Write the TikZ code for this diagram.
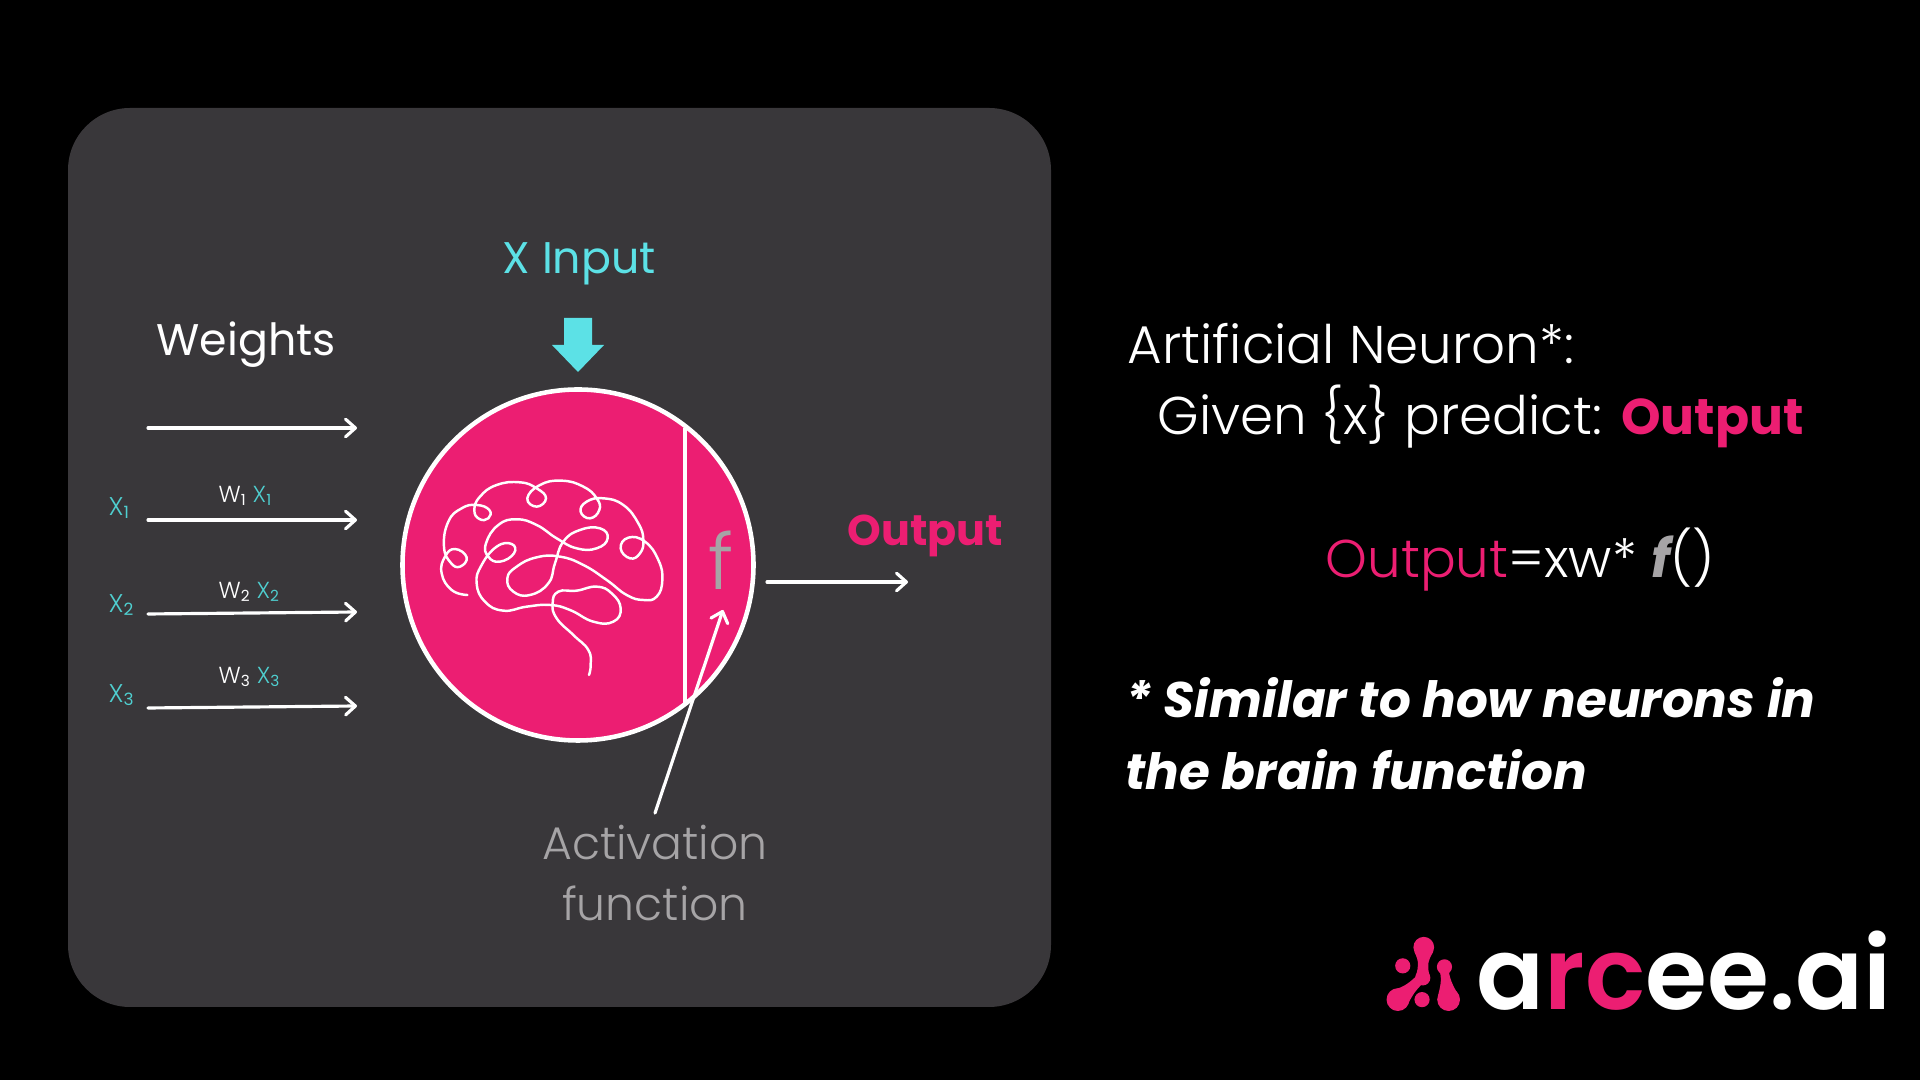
\documentclass[tikz,border=0pt]{standalone}
\usepackage{fontspec}
\setmainfont{Poppins}
\newfontfamily\lightf{Poppins Light}
\newfontfamily\semif{Poppins SemiBold}
\usetikzlibrary{arrows.meta}
\definecolor{pinkc}{HTML}{EC1E72}
\definecolor{panelc}{HTML}{39373A}
\definecolor{cyanc}{HTML}{5CE1E6}
\definecolor{tealc}{HTML}{4FCFD0}
\definecolor{grayc}{HTML}{A6A4A6}
\newcommand{\Sz}[1]{\fontsize{#1pt}{#1pt}\selectfont}
\newcommand{\Low}[1]{\raisebox{-0.2ex}{\scalebox{0.66}{\normalfont #1}}}
\tikzset{
  wire/.style={white,line width=0.9pt,line cap=round,-{Straight Barb[length=2.8pt,width=5pt,round]}},
  txt/.style={inner sep=0pt,anchor=base west,text=white},
  small/.style={txt,font=\lightf\Sz{7.3}},
  line/.style={txt,font=\lightf\Sz{15.1}},
  note/.style={txt,font=\bfseries\itshape\Sz{14.2}},
}
\begin{document}
\begin{tikzpicture}[x=0.01cm,y=-0.01cm]
\useasboundingbox (0,0) rectangle (1920,1080);
\fill[black] (0,0) rectangle (1920,1080);
\fill[panelc,rounded corners=0.62cm] (68,108) rectangle (1051,1007);
% left side
\node[txt,font=\Sz{12.6}] (weights) at (156,356) {Weights};
\node[txt,text=cyanc,font=\Sz{12.6}] (xinput) at (502,274) {X Input};
\fill[cyanc] (564,318) -- (592,318) -- (592,345) -- (604,345) -- (578,372) -- (552,345) -- (564,345) -- cycle;
\coordinate (w0a) at (148,428);
\coordinate (w0b) at (357,428);
\draw[wire] (w0a) -- (w0b);
\foreach \n/\ya/\yb/\yx/\yw in {1/520/520/516/503,2/614/612/613/599,3/708/706/703/684}
{
  \coordinate (w\n a) at (148,\ya);
  \coordinate (w\n b) at (357,\yb);
  \draw[wire] (w\n a) -- (w\n b);
  \node[small,text=tealc] (x\n) at (108,\yx) {X\Low{\n}};
  \node[small,font=\lightf\Sz{6.6}] (wx\n) at (218,\yw) {W\Low{\n}\hspace{0.3em}\textcolor{tealc}{X\Low{\n}}};
}
% neuron
\fill[pinkc] (578,565) circle (175.5*0.01cm);
\draw[white,line width=1.3pt] (578,565) circle (175.5*0.01cm);
\draw[white,line width=1.2pt] (685,428) -- (685,703);
\begin{scope}[shift={(380,370)},x=0.01cm/3,y=-0.01cm/3]
\draw[white,line width=0.7pt,line cap=round] plot[smooth,tension=0.8] coordinates {
(262,675) (215,660) (185,610) (195,560) (225,537) (260,562) (240,590) (212,578) (192,530) (205,455) (245,415) (290,405)
(328,420) (325,445) (298,447) (283,420) (300,380) (350,345) (420,337) (470,355) (498,385) (470,410) (442,385) (480,345)
(545,332) (610,350) (650,385) (658,420) (630,445) (602,425) (620,395) (670,385) (730,405) (775,460) (790,510) (780,550)
(750,565) (722,535) (745,503) (795,515) (835,570) (847,630) (830,680) (790,690) (740,675) (680,630) (610,585) (540,560)
(470,562) (410,590) (382,625) (400,665) (450,675) (505,640) (525,580) (550,515) (600,480) (660,475) (683,505) (650,535)
(590,535) (530,505) (470,465) (410,448) (355,465) (318,520) (325,560) (360,575) (402,550) (395,522) (350,530) (305,585)
(290,640) (315,695) (370,722) (440,710) (510,705) (570,720) (640,755) (700,755) (722,715) (695,670) (650,650) (590,662)
(535,665) (518,700) (530,745) (580,795) (625,840) (632,885) (627,915)};
\end{scope}
\node[txt,text=grayc,font=\lightf\Sz{22}] (fsym) at (708,590) {f};
\node[inner sep=0pt,outer sep=3.5pt,anchor=base,text=grayc,align=center,font=\lightf\Sz{13}] (activ) at (655,921) {Activation\\[4.4pt]function};
\coordinate (ftip) at (723,610);
\draw[wire] (activ.north) -- (ftip);
\coordinate (outa) at (767,582);
\coordinate (outb) at (908,582);
\draw[wire] (outa) -- (outb);
\node[txt,text=pinkc,font=\bfseries\Sz{12.2}] (outlbl) at (847,546) {Output};
% right side
\node[line] (title) at (1127,364) {Artificial Neuron*:};
\node[line] (given) at (1157,435) {Given \{x\} predict: \textcolor{pinkc}{\normalfont\bfseries\Sz{14.3}Output}};
\node[line] (formula) at (1325,578) {\textcolor{pinkc}{Output}=xw* \textcolor{grayc}{\normalfont\bfseries\itshape f}()};
\node[note] (note1) at (1125,718) {* Similar to how neurons in};
\node[note] (note2) at (1125,790) {the brain function};
% logo
\begin{scope}[shift={(1360,910)},x=0.01cm/2.9,y=-0.01cm/2.9]
\fill[pinkc] (185,108) circle (30*0.01cm/2.9) (124,162) circle (22*0.01cm/2.9) (245,165) circle (22*0.01cm/2.9)
  (257,260) circle (33*0.01cm/2.9) (110,260) circle (33*0.01cm/2.9) (180,260) circle (22*0.01cm/2.9) (182,197) circle (22*0.01cm/2.9);
\fill[pinkc] (158,122) .. controls (172,150) and (170,165) .. (162,190) -- (202,190) .. controls (195,165) and (195,150) .. (212,122) -- cycle;
\fill[pinkc] (232,180) .. controls (238,205) and (232,225) .. (226,250) -- (288,250) .. controls (272,225) and (262,205) .. (258,180) -- cycle;
\fill[pinkc] (100,230) .. controls (125,225) and (145,210) .. (165,190) -- (180,215) .. controls (160,235) and (150,250) .. (140,272) -- cycle;
\end{scope}
\node[txt,font=\semif\Sz{28.5}] (logo) at (1476,1010) {a\textcolor{pinkc}{rc}ee.ai};
\end{tikzpicture}
\end{document}
